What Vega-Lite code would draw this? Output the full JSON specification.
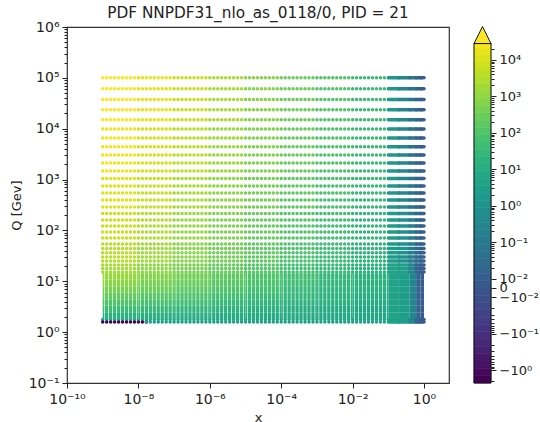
{"$schema":"https://vega.github.io/schema/vega-lite/v6.json","padding":{"left":9,"top":5,"right":0,"bottom":0},"background":"white","config":{"font":"DejaVu Sans","axis":{"grid":false,"labelFont":"DejaVu Sans","titleFont":"DejaVu Sans","labelColor":"#222","titleColor":"#222","tickColor":"#222","labelOverlap":false,"labelBound":false,"labelFlush":false}},"resolve":{"scale":{"color":"independent"}},"spacing":22,"hconcat":[{"width":382,"height":356,"title":{"text":"PDF NNPDF31_nlo_as_0118/0, PID = 21","fontSize":15.3,"fontWeight":"normal","color":"#222","font":"DejaVu Sans","offset":-1},"view":{"stroke":"#333","strokeWidth":1.2},"data":{"values":[
{"x":1e-9,"x2":1e-8,"q":1e5,"f":3e4},{"x":1e-8,"x2":1e-7,"q":1e5,"f":1.2e4},{"x":1e-7,"x2":1e-6,"q":1e5,"f":4600},{"x":1e-6,"x2":1e-5,"q":1e5,"f":1750},{"x":1e-5,"x2":1e-4,"q":1e5,"f":640},{"x":1e-4,"x2":1e-3,"q":1e5,"f":235},{"x":1e-3,"x2":0.01,"q":1e5,"f":88},{"x":0.01,"x2":0.1,"q":1e5,"f":32},{"x":0.1,"x2":0.2,"q":1e5,"f":1.2},{"x":0.2,"x2":0.4,"q":1e5,"f":0.27},{"x":0.4,"x2":0.6,"q":1e5,"f":0.049},{"x":0.6,"x2":0.8,"q":1e5,"f":0.016},{"x":0.8,"x2":1,"q":1e5,"f":0.005},
{"x":1e-9,"x2":1e-8,"q":61200,"f":3e4},{"x":1e-8,"x2":1e-7,"q":61200,"f":1.2e4},{"x":1e-7,"x2":1e-6,"q":61200,"f":4600},{"x":1e-6,"x2":1e-5,"q":61200,"f":1750},{"x":1e-5,"x2":1e-4,"q":61200,"f":640},{"x":1e-4,"x2":1e-3,"q":61200,"f":235},{"x":1e-3,"x2":0.01,"q":61200,"f":88},{"x":0.01,"x2":0.1,"q":61200,"f":32},{"x":0.1,"x2":0.2,"q":61200,"f":1.2},{"x":0.2,"x2":0.4,"q":61200,"f":0.27},{"x":0.4,"x2":0.6,"q":61200,"f":0.049},{"x":0.6,"x2":0.8,"q":61200,"f":0.016},{"x":0.8,"x2":1,"q":61200,"f":0.005},
{"x":1e-9,"x2":1e-8,"q":37700,"f":3e4},{"x":1e-8,"x2":1e-7,"q":37700,"f":1.2e4},{"x":1e-7,"x2":1e-6,"q":37700,"f":4600},{"x":1e-6,"x2":1e-5,"q":37700,"f":1750},{"x":1e-5,"x2":1e-4,"q":37700,"f":640},{"x":1e-4,"x2":1e-3,"q":37700,"f":235},{"x":1e-3,"x2":0.01,"q":37700,"f":88},{"x":0.01,"x2":0.1,"q":37700,"f":32},{"x":0.1,"x2":0.2,"q":37700,"f":1.2},{"x":0.2,"x2":0.4,"q":37700,"f":0.27},{"x":0.4,"x2":0.6,"q":37700,"f":0.049},{"x":0.6,"x2":0.8,"q":37700,"f":0.016},{"x":0.8,"x2":1,"q":37700,"f":0.005},
{"x":1e-9,"x2":1e-8,"q":23600,"f":3e4},{"x":1e-8,"x2":1e-7,"q":23600,"f":1.2e4},{"x":1e-7,"x2":1e-6,"q":23600,"f":4600},{"x":1e-6,"x2":1e-5,"q":23600,"f":1750},{"x":1e-5,"x2":1e-4,"q":23600,"f":640},{"x":1e-4,"x2":1e-3,"q":23600,"f":235},{"x":1e-3,"x2":0.01,"q":23600,"f":88},{"x":0.01,"x2":0.1,"q":23600,"f":32},{"x":0.1,"x2":0.2,"q":23600,"f":1.2},{"x":0.2,"x2":0.4,"q":23600,"f":0.27},{"x":0.4,"x2":0.6,"q":23600,"f":0.049},{"x":0.6,"x2":0.8,"q":23600,"f":0.016},{"x":0.8,"x2":1,"q":23600,"f":0.005},
{"x":1e-9,"x2":1e-8,"q":15000,"f":3e4},{"x":1e-8,"x2":1e-7,"q":15000,"f":1.2e4},{"x":1e-7,"x2":1e-6,"q":15000,"f":4600},{"x":1e-6,"x2":1e-5,"q":15000,"f":1750},{"x":1e-5,"x2":1e-4,"q":15000,"f":640},{"x":1e-4,"x2":1e-3,"q":15000,"f":235},{"x":1e-3,"x2":0.01,"q":15000,"f":88},{"x":0.01,"x2":0.1,"q":15000,"f":32},{"x":0.1,"x2":0.2,"q":15000,"f":1.2},{"x":0.2,"x2":0.4,"q":15000,"f":0.27},{"x":0.4,"x2":0.6,"q":15000,"f":0.049},{"x":0.6,"x2":0.8,"q":15000,"f":0.016},{"x":0.8,"x2":1,"q":15000,"f":0.005},
{"x":1e-9,"x2":1e-8,"q":9900,"f":1.9e4},{"x":1e-8,"x2":1e-7,"q":9900,"f":7400},{"x":1e-7,"x2":1e-6,"q":9900,"f":3000},{"x":1e-6,"x2":1e-5,"q":9900,"f":1200},{"x":1e-5,"x2":1e-4,"q":9900,"f":480},{"x":1e-4,"x2":1e-3,"q":9900,"f":190},{"x":1e-3,"x2":0.01,"q":9900,"f":78},{"x":0.01,"x2":0.1,"q":9900,"f":31},{"x":0.1,"x2":0.2,"q":9900,"f":1.2},{"x":0.2,"x2":0.4,"q":9900,"f":0.27},{"x":0.4,"x2":0.6,"q":9900,"f":0.049},{"x":0.6,"x2":0.8,"q":9900,"f":0.016},{"x":0.8,"x2":1,"q":9900,"f":0.005},
{"x":1e-9,"x2":1e-8,"q":6600,"f":1.9e4},{"x":1e-8,"x2":1e-7,"q":6600,"f":7400},{"x":1e-7,"x2":1e-6,"q":6600,"f":3000},{"x":1e-6,"x2":1e-5,"q":6600,"f":1200},{"x":1e-5,"x2":1e-4,"q":6600,"f":480},{"x":1e-4,"x2":1e-3,"q":6600,"f":190},{"x":1e-3,"x2":0.01,"q":6600,"f":78},{"x":0.01,"x2":0.1,"q":6600,"f":31},{"x":0.1,"x2":0.2,"q":6600,"f":1.2},{"x":0.2,"x2":0.4,"q":6600,"f":0.27},{"x":0.4,"x2":0.6,"q":6600,"f":0.049},{"x":0.6,"x2":0.8,"q":6600,"f":0.016},{"x":0.8,"x2":1,"q":6600,"f":0.005},
{"x":1e-9,"x2":1e-8,"q":4400,"f":1.9e4},{"x":1e-8,"x2":1e-7,"q":4400,"f":7400},{"x":1e-7,"x2":1e-6,"q":4400,"f":3000},{"x":1e-6,"x2":1e-5,"q":4400,"f":1200},{"x":1e-5,"x2":1e-4,"q":4400,"f":480},{"x":1e-4,"x2":1e-3,"q":4400,"f":190},{"x":1e-3,"x2":0.01,"q":4400,"f":78},{"x":0.01,"x2":0.1,"q":4400,"f":31},{"x":0.1,"x2":0.2,"q":4400,"f":1.2},{"x":0.2,"x2":0.4,"q":4400,"f":0.27},{"x":0.4,"x2":0.6,"q":4400,"f":0.049},{"x":0.6,"x2":0.8,"q":4400,"f":0.016},{"x":0.8,"x2":1,"q":4400,"f":0.005},
{"x":1e-9,"x2":1e-8,"q":3040,"f":1.9e4},{"x":1e-8,"x2":1e-7,"q":3040,"f":7400},{"x":1e-7,"x2":1e-6,"q":3040,"f":3000},{"x":1e-6,"x2":1e-5,"q":3040,"f":1200},{"x":1e-5,"x2":1e-4,"q":3040,"f":480},{"x":1e-4,"x2":1e-3,"q":3040,"f":190},{"x":1e-3,"x2":0.01,"q":3040,"f":78},{"x":0.01,"x2":0.1,"q":3040,"f":31},{"x":0.1,"x2":0.2,"q":3040,"f":1.2},{"x":0.2,"x2":0.4,"q":3040,"f":0.27},{"x":0.4,"x2":0.6,"q":3040,"f":0.049},{"x":0.6,"x2":0.8,"q":3040,"f":0.016},{"x":0.8,"x2":1,"q":3040,"f":0.005},
{"x":1e-9,"x2":1e-8,"q":2120,"f":1.9e4},{"x":1e-8,"x2":1e-7,"q":2120,"f":7400},{"x":1e-7,"x2":1e-6,"q":2120,"f":3000},{"x":1e-6,"x2":1e-5,"q":2120,"f":1200},{"x":1e-5,"x2":1e-4,"q":2120,"f":480},{"x":1e-4,"x2":1e-3,"q":2120,"f":190},{"x":1e-3,"x2":0.01,"q":2120,"f":78},{"x":0.01,"x2":0.1,"q":2120,"f":31},{"x":0.1,"x2":0.2,"q":2120,"f":1.2},{"x":0.2,"x2":0.4,"q":2120,"f":0.27},{"x":0.4,"x2":0.6,"q":2120,"f":0.049},{"x":0.6,"x2":0.8,"q":2120,"f":0.016},{"x":0.8,"x2":1,"q":2120,"f":0.005},
{"x":1e-9,"x2":1e-8,"q":1470,"f":1.9e4},{"x":1e-8,"x2":1e-7,"q":1470,"f":7400},{"x":1e-7,"x2":1e-6,"q":1470,"f":3000},{"x":1e-6,"x2":1e-5,"q":1470,"f":1200},{"x":1e-5,"x2":1e-4,"q":1470,"f":480},{"x":1e-4,"x2":1e-3,"q":1470,"f":190},{"x":1e-3,"x2":0.01,"q":1470,"f":78},{"x":0.01,"x2":0.1,"q":1470,"f":31},{"x":0.1,"x2":0.2,"q":1470,"f":1.2},{"x":0.2,"x2":0.4,"q":1470,"f":0.27},{"x":0.4,"x2":0.6,"q":1470,"f":0.049},{"x":0.6,"x2":0.8,"q":1470,"f":0.016},{"x":0.8,"x2":1,"q":1470,"f":0.005},
{"x":1e-9,"x2":1e-8,"q":1050,"f":1e4},{"x":1e-8,"x2":1e-7,"q":1050,"f":4200},{"x":1e-7,"x2":1e-6,"q":1050,"f":1800},{"x":1e-6,"x2":1e-5,"q":1050,"f":750},{"x":1e-5,"x2":1e-4,"q":1050,"f":320},{"x":1e-4,"x2":1e-3,"q":1050,"f":140},{"x":1e-3,"x2":0.01,"q":1050,"f":58},{"x":0.01,"x2":0.1,"q":1050,"f":24},{"x":0.1,"x2":0.2,"q":1050,"f":1.2},{"x":0.2,"x2":0.4,"q":1050,"f":0.27},{"x":0.4,"x2":0.6,"q":1050,"f":0.049},{"x":0.6,"x2":0.8,"q":1050,"f":0.016},{"x":0.8,"x2":1,"q":1050,"f":0.005},
{"x":1e-9,"x2":1e-8,"q":747,"f":1e4},{"x":1e-8,"x2":1e-7,"q":747,"f":4200},{"x":1e-7,"x2":1e-6,"q":747,"f":1800},{"x":1e-6,"x2":1e-5,"q":747,"f":750},{"x":1e-5,"x2":1e-4,"q":747,"f":320},{"x":1e-4,"x2":1e-3,"q":747,"f":140},{"x":1e-3,"x2":0.01,"q":747,"f":58},{"x":0.01,"x2":0.1,"q":747,"f":24},{"x":0.1,"x2":0.2,"q":747,"f":1.2},{"x":0.2,"x2":0.4,"q":747,"f":0.27},{"x":0.4,"x2":0.6,"q":747,"f":0.049},{"x":0.6,"x2":0.8,"q":747,"f":0.016},{"x":0.8,"x2":1,"q":747,"f":0.005},
{"x":1e-9,"x2":1e-8,"q":544,"f":1e4},{"x":1e-8,"x2":1e-7,"q":544,"f":4200},{"x":1e-7,"x2":1e-6,"q":544,"f":1800},{"x":1e-6,"x2":1e-5,"q":544,"f":750},{"x":1e-5,"x2":1e-4,"q":544,"f":320},{"x":1e-4,"x2":1e-3,"q":544,"f":140},{"x":1e-3,"x2":0.01,"q":544,"f":58},{"x":0.01,"x2":0.1,"q":544,"f":24},{"x":0.1,"x2":0.2,"q":544,"f":1.2},{"x":0.2,"x2":0.4,"q":544,"f":0.27},{"x":0.4,"x2":0.6,"q":544,"f":0.049},{"x":0.6,"x2":0.8,"q":544,"f":0.016},{"x":0.8,"x2":1,"q":544,"f":0.005},
{"x":1e-9,"x2":1e-8,"q":396,"f":1e4},{"x":1e-8,"x2":1e-7,"q":396,"f":4200},{"x":1e-7,"x2":1e-6,"q":396,"f":1800},{"x":1e-6,"x2":1e-5,"q":396,"f":750},{"x":1e-5,"x2":1e-4,"q":396,"f":320},{"x":1e-4,"x2":1e-3,"q":396,"f":140},{"x":1e-3,"x2":0.01,"q":396,"f":58},{"x":0.01,"x2":0.1,"q":396,"f":24},{"x":0.1,"x2":0.2,"q":396,"f":1.2},{"x":0.2,"x2":0.4,"q":396,"f":0.27},{"x":0.4,"x2":0.6,"q":396,"f":0.049},{"x":0.6,"x2":0.8,"q":396,"f":0.016},{"x":0.8,"x2":1,"q":396,"f":0.005},
{"x":1e-9,"x2":1e-8,"q":289,"f":1e4},{"x":1e-8,"x2":1e-7,"q":289,"f":4200},{"x":1e-7,"x2":1e-6,"q":289,"f":1800},{"x":1e-6,"x2":1e-5,"q":289,"f":750},{"x":1e-5,"x2":1e-4,"q":289,"f":320},{"x":1e-4,"x2":1e-3,"q":289,"f":140},{"x":1e-3,"x2":0.01,"q":289,"f":58},{"x":0.01,"x2":0.1,"q":289,"f":24},{"x":0.1,"x2":0.2,"q":289,"f":1.2},{"x":0.2,"x2":0.4,"q":289,"f":0.27},{"x":0.4,"x2":0.6,"q":289,"f":0.049},{"x":0.6,"x2":0.8,"q":289,"f":0.016},{"x":0.8,"x2":1,"q":289,"f":0.005},
{"x":1e-9,"x2":1e-8,"q":215,"f":5300},{"x":1e-8,"x2":1e-7,"q":215,"f":2400},{"x":1e-7,"x2":1e-6,"q":215,"f":1050},{"x":1e-6,"x2":1e-5,"q":215,"f":480},{"x":1e-5,"x2":1e-4,"q":215,"f":210},{"x":1e-4,"x2":1e-3,"q":215,"f":96},{"x":1e-3,"x2":0.01,"q":215,"f":43},{"x":0.01,"x2":0.1,"q":215,"f":20},{"x":0.1,"x2":0.2,"q":215,"f":1.9},{"x":0.2,"x2":0.4,"q":215,"f":0.64},{"x":0.4,"x2":0.6,"q":215,"f":0.11},{"x":0.6,"x2":0.8,"q":215,"f":0.021},{"x":0.8,"x2":1,"q":215,"f":0.008},
{"x":1e-9,"x2":1e-8,"q":160,"f":5300},{"x":1e-8,"x2":1e-7,"q":160,"f":2400},{"x":1e-7,"x2":1e-6,"q":160,"f":1050},{"x":1e-6,"x2":1e-5,"q":160,"f":480},{"x":1e-5,"x2":1e-4,"q":160,"f":210},{"x":1e-4,"x2":1e-3,"q":160,"f":96},{"x":1e-3,"x2":0.01,"q":160,"f":43},{"x":0.01,"x2":0.1,"q":160,"f":20},{"x":0.1,"x2":0.2,"q":160,"f":1.9},{"x":0.2,"x2":0.4,"q":160,"f":0.64},{"x":0.4,"x2":0.6,"q":160,"f":0.11},{"x":0.6,"x2":0.8,"q":160,"f":0.021},{"x":0.8,"x2":1,"q":160,"f":0.008},
{"x":1e-9,"x2":1e-8,"q":122,"f":5300},{"x":1e-8,"x2":1e-7,"q":122,"f":2400},{"x":1e-7,"x2":1e-6,"q":122,"f":1050},{"x":1e-6,"x2":1e-5,"q":122,"f":480},{"x":1e-5,"x2":1e-4,"q":122,"f":210},{"x":1e-4,"x2":1e-3,"q":122,"f":96},{"x":1e-3,"x2":0.01,"q":122,"f":43},{"x":0.01,"x2":0.1,"q":122,"f":20},{"x":0.1,"x2":0.2,"q":122,"f":1.9},{"x":0.2,"x2":0.4,"q":122,"f":0.64},{"x":0.4,"x2":0.6,"q":122,"f":0.11},{"x":0.6,"x2":0.8,"q":122,"f":0.021},{"x":0.8,"x2":1,"q":122,"f":0.008},
{"x":1e-9,"x2":1e-8,"q":93,"f":5300},{"x":1e-8,"x2":1e-7,"q":93,"f":2400},{"x":1e-7,"x2":1e-6,"q":93,"f":1050},{"x":1e-6,"x2":1e-5,"q":93,"f":480},{"x":1e-5,"x2":1e-4,"q":93,"f":210},{"x":1e-4,"x2":1e-3,"q":93,"f":96},{"x":1e-3,"x2":0.01,"q":93,"f":43},{"x":0.01,"x2":0.1,"q":93,"f":20},{"x":0.1,"x2":0.2,"q":93,"f":1.9},{"x":0.2,"x2":0.4,"q":93,"f":0.64},{"x":0.4,"x2":0.6,"q":93,"f":0.11},{"x":0.6,"x2":0.8,"q":93,"f":0.021},{"x":0.8,"x2":1,"q":93,"f":0.008},
{"x":1e-9,"x2":1e-8,"q":71,"f":5300},{"x":1e-8,"x2":1e-7,"q":71,"f":2400},{"x":1e-7,"x2":1e-6,"q":71,"f":1050},{"x":1e-6,"x2":1e-5,"q":71,"f":480},{"x":1e-5,"x2":1e-4,"q":71,"f":210},{"x":1e-4,"x2":1e-3,"q":71,"f":96},{"x":1e-3,"x2":0.01,"q":71,"f":43},{"x":0.01,"x2":0.1,"q":71,"f":20},{"x":0.1,"x2":0.2,"q":71,"f":1.9},{"x":0.2,"x2":0.4,"q":71,"f":0.64},{"x":0.4,"x2":0.6,"q":71,"f":0.11},{"x":0.6,"x2":0.8,"q":71,"f":0.021},{"x":0.8,"x2":1,"q":71,"f":0.008},
{"x":1e-9,"x2":1e-8,"q":54,"f":2900},{"x":1e-8,"x2":1e-7,"q":54,"f":1350},{"x":1e-7,"x2":1e-6,"q":54,"f":640},{"x":1e-6,"x2":1e-5,"q":54,"f":300},{"x":1e-5,"x2":1e-4,"q":54,"f":145},{"x":1e-4,"x2":1e-3,"q":54,"f":68},{"x":1e-3,"x2":0.01,"q":54,"f":32},{"x":0.01,"x2":0.1,"q":54,"f":15},{"x":0.1,"x2":0.2,"q":54,"f":1.9},{"x":0.2,"x2":0.4,"q":54,"f":0.64},{"x":0.4,"x2":0.6,"q":54,"f":0.11},{"x":0.6,"x2":0.8,"q":54,"f":0.021},{"x":0.8,"x2":1,"q":54,"f":0.008},
{"x":1e-9,"x2":1e-8,"q":44,"f":2900},{"x":1e-8,"x2":1e-7,"q":44,"f":1350},{"x":1e-7,"x2":1e-6,"q":44,"f":640},{"x":1e-6,"x2":1e-5,"q":44,"f":300},{"x":1e-5,"x2":1e-4,"q":44,"f":145},{"x":1e-4,"x2":1e-3,"q":44,"f":68},{"x":1e-3,"x2":0.01,"q":44,"f":32},{"x":0.01,"x2":0.1,"q":44,"f":15},{"x":0.1,"x2":0.2,"q":44,"f":1.9},{"x":0.2,"x2":0.4,"q":44,"f":0.64},{"x":0.4,"x2":0.6,"q":44,"f":0.11},{"x":0.6,"x2":0.8,"q":44,"f":0.021},{"x":0.8,"x2":1,"q":44,"f":0.008},
{"x":1e-9,"x2":1e-8,"q":36.5,"f":2900},{"x":1e-8,"x2":1e-7,"q":36.5,"f":1350},{"x":1e-7,"x2":1e-6,"q":36.5,"f":640},{"x":1e-6,"x2":1e-5,"q":36.5,"f":300},{"x":1e-5,"x2":1e-4,"q":36.5,"f":145},{"x":1e-4,"x2":1e-3,"q":36.5,"f":68},{"x":1e-3,"x2":0.01,"q":36.5,"f":32},{"x":0.01,"x2":0.1,"q":36.5,"f":15},{"x":0.1,"x2":0.2,"q":36.5,"f":1.9},{"x":0.2,"x2":0.4,"q":36.5,"f":0.64},{"x":0.4,"x2":0.6,"q":36.5,"f":0.11},{"x":0.6,"x2":0.8,"q":36.5,"f":0.021},{"x":0.8,"x2":1,"q":36.5,"f":0.008},
{"x":1e-9,"x2":1e-8,"q":30,"f":2900},{"x":1e-8,"x2":1e-7,"q":30,"f":1350},{"x":1e-7,"x2":1e-6,"q":30,"f":640},{"x":1e-6,"x2":1e-5,"q":30,"f":300},{"x":1e-5,"x2":1e-4,"q":30,"f":145},{"x":1e-4,"x2":1e-3,"q":30,"f":68},{"x":1e-3,"x2":0.01,"q":30,"f":32},{"x":0.01,"x2":0.1,"q":30,"f":15},{"x":0.1,"x2":0.2,"q":30,"f":1.9},{"x":0.2,"x2":0.4,"q":30,"f":0.64},{"x":0.4,"x2":0.6,"q":30,"f":0.11},{"x":0.6,"x2":0.8,"q":30,"f":0.021},{"x":0.8,"x2":1,"q":30,"f":0.008},
{"x":1e-9,"x2":1e-8,"q":25,"f":2900},{"x":1e-8,"x2":1e-7,"q":25,"f":1350},{"x":1e-7,"x2":1e-6,"q":25,"f":640},{"x":1e-6,"x2":1e-5,"q":25,"f":300},{"x":1e-5,"x2":1e-4,"q":25,"f":145},{"x":1e-4,"x2":1e-3,"q":25,"f":68},{"x":1e-3,"x2":0.01,"q":25,"f":32},{"x":0.01,"x2":0.1,"q":25,"f":15},{"x":0.1,"x2":0.2,"q":25,"f":1.9},{"x":0.2,"x2":0.4,"q":25,"f":0.64},{"x":0.4,"x2":0.6,"q":25,"f":0.11},{"x":0.6,"x2":0.8,"q":25,"f":0.021},{"x":0.8,"x2":1,"q":25,"f":0.008},
{"x":1e-9,"x2":1e-8,"q":21,"f":1550},{"x":1e-8,"x2":1e-7,"q":21,"f":770},{"x":1e-7,"x2":1e-6,"q":21,"f":390},{"x":1e-6,"x2":1e-5,"q":21,"f":190},{"x":1e-5,"x2":1e-4,"q":21,"f":96},{"x":1e-4,"x2":1e-3,"q":21,"f":47},{"x":1e-3,"x2":0.01,"q":21,"f":25},{"x":0.01,"x2":0.1,"q":21,"f":12},{"x":0.1,"x2":0.2,"q":21,"f":3.5},{"x":0.2,"x2":0.4,"q":21,"f":2.3},{"x":0.4,"x2":0.6,"q":21,"f":0.2},{"x":0.6,"x2":0.8,"q":21,"f":0.012},{"x":0.8,"x2":1,"q":21,"f":0.002},
{"x":1e-9,"x2":1e-8,"q":17.8,"f":1550},{"x":1e-8,"x2":1e-7,"q":17.8,"f":770},{"x":1e-7,"x2":1e-6,"q":17.8,"f":390},{"x":1e-6,"x2":1e-5,"q":17.8,"f":190},{"x":1e-5,"x2":1e-4,"q":17.8,"f":96},{"x":1e-4,"x2":1e-3,"q":17.8,"f":47},{"x":1e-3,"x2":0.01,"q":17.8,"f":25},{"x":0.01,"x2":0.1,"q":17.8,"f":12},{"x":0.1,"x2":0.2,"q":17.8,"f":3.5},{"x":0.2,"x2":0.4,"q":17.8,"f":2.3},{"x":0.4,"x2":0.6,"q":17.8,"f":0.2},{"x":0.6,"x2":0.8,"q":17.8,"f":0.012},{"x":0.8,"x2":1,"q":17.8,"f":0.002},
{"x":1e-9,"x2":1e-8,"q":15.2,"f":1550},{"x":1e-8,"x2":1e-7,"q":15.2,"f":770},{"x":1e-7,"x2":1e-6,"q":15.2,"f":390},{"x":1e-6,"x2":1e-5,"q":15.2,"f":190},{"x":1e-5,"x2":1e-4,"q":15.2,"f":96},{"x":1e-4,"x2":1e-3,"q":15.2,"f":47},{"x":1e-3,"x2":0.01,"q":15.2,"f":25},{"x":0.01,"x2":0.1,"q":15.2,"f":12},{"x":0.1,"x2":0.2,"q":15.2,"f":3.5},{"x":0.2,"x2":0.4,"q":15.2,"f":2.3},{"x":0.4,"x2":0.6,"q":15.2,"f":0.2},{"x":0.6,"x2":0.8,"q":15.2,"f":0.012},{"x":0.8,"x2":1,"q":15.2,"f":0.002},
{"x":1e-9,"x2":1e-8,"q":12.4,"f":1050},{"x":1e-8,"x2":1e-7,"q":12.4,"f":560},{"x":1e-7,"x2":1e-6,"q":12.4,"f":290},{"x":1e-6,"x2":1e-5,"q":12.4,"f":150},{"x":1e-5,"x2":1e-4,"q":12.4,"f":80},{"x":1e-4,"x2":1e-3,"q":12.4,"f":42},{"x":1e-3,"x2":0.01,"q":12.4,"f":22},{"x":0.01,"x2":0.1,"q":12.4,"f":12},{"x":0.1,"x2":0.2,"q":12.4,"f":3.5},{"x":0.2,"x2":0.4,"q":12.4,"f":2.3},{"x":0.4,"x2":0.6,"q":12.4,"f":0.2},{"x":0.6,"x2":0.8,"q":12.4,"f":0.012},{"x":0.8,"x2":1,"q":12.4,"f":0.002},
{"x":1e-9,"x2":1e-8,"q":9.25,"f":700},{"x":1e-8,"x2":1e-7,"q":9.25,"f":390},{"x":1e-7,"x2":1e-6,"q":9.25,"f":210},{"x":1e-6,"x2":1e-5,"q":9.25,"f":120},{"x":1e-5,"x2":1e-4,"q":9.25,"f":65},{"x":1e-4,"x2":1e-3,"q":9.25,"f":36},{"x":1e-3,"x2":0.01,"q":9.25,"f":20},{"x":0.01,"x2":0.1,"q":9.25,"f":12},{"x":0.1,"x2":0.2,"q":9.25,"f":3.5},{"x":0.2,"x2":0.4,"q":9.25,"f":2.3},{"x":0.4,"x2":0.6,"q":9.25,"f":0.2},{"x":0.6,"x2":0.8,"q":9.25,"f":0.012},{"x":0.8,"x2":1,"q":9.25,"f":0.002},
{"x":1e-9,"x2":1e-8,"q":6.89,"f":380},{"x":1e-8,"x2":1e-7,"q":6.89,"f":230},{"x":1e-7,"x2":1e-6,"q":6.89,"f":140},{"x":1e-6,"x2":1e-5,"q":6.89,"f":80},{"x":1e-5,"x2":1e-4,"q":6.89,"f":47},{"x":1e-4,"x2":1e-3,"q":6.89,"f":27},{"x":1e-3,"x2":0.01,"q":6.89,"f":16},{"x":0.01,"x2":0.1,"q":6.89,"f":10},{"x":0.1,"x2":0.2,"q":6.89,"f":3.5},{"x":0.2,"x2":0.4,"q":6.89,"f":2.3},{"x":0.4,"x2":0.6,"q":6.89,"f":0.2},{"x":0.6,"x2":0.8,"q":6.89,"f":0.012},{"x":0.8,"x2":1,"q":6.89,"f":0.002},
{"x":1e-9,"x2":1e-8,"q":5.14,"f":170},{"x":1e-8,"x2":1e-7,"q":5.14,"f":110},{"x":1e-7,"x2":1e-6,"q":5.14,"f":71},{"x":1e-6,"x2":1e-5,"q":5.14,"f":46},{"x":1e-5,"x2":1e-4,"q":5.14,"f":30},{"x":1e-4,"x2":1e-3,"q":5.14,"f":20},{"x":1e-3,"x2":0.01,"q":5.14,"f":13},{"x":0.01,"x2":0.1,"q":5.14,"f":8.4},{"x":0.1,"x2":0.2,"q":5.14,"f":3.5},{"x":0.2,"x2":0.4,"q":5.14,"f":2.3},{"x":0.4,"x2":0.6,"q":5.14,"f":0.2},{"x":0.6,"x2":0.8,"q":5.14,"f":0.012},{"x":0.8,"x2":1,"q":5.14,"f":0.002},
{"x":1e-9,"x2":1e-8,"q":3.83,"f":78},{"x":1e-8,"x2":1e-7,"q":3.83,"f":55},{"x":1e-7,"x2":1e-6,"q":3.83,"f":38},{"x":1e-6,"x2":1e-5,"q":3.83,"f":27},{"x":1e-5,"x2":1e-4,"q":3.83,"f":19},{"x":1e-4,"x2":1e-3,"q":3.83,"f":14},{"x":1e-3,"x2":0.01,"q":3.83,"f":10},{"x":0.01,"x2":0.1,"q":3.83,"f":7},{"x":0.1,"x2":0.2,"q":3.83,"f":3.5},{"x":0.2,"x2":0.4,"q":3.83,"f":2.3},{"x":0.4,"x2":0.6,"q":3.83,"f":0.2},{"x":0.6,"x2":0.8,"q":3.83,"f":0.012},{"x":0.8,"x2":1,"q":3.83,"f":0.002},
{"x":1e-9,"x2":1e-8,"q":2.85,"f":34},{"x":1e-8,"x2":1e-7,"q":2.85,"f":25},{"x":1e-7,"x2":1e-6,"q":2.85,"f":19},{"x":1e-6,"x2":1e-5,"q":2.85,"f":14},{"x":1e-5,"x2":1e-4,"q":2.85,"f":11},{"x":1e-4,"x2":1e-3,"q":2.85,"f":8},{"x":1e-3,"x2":0.01,"q":2.85,"f":6},{"x":0.01,"x2":0.1,"q":2.85,"f":4.5},{"x":0.1,"x2":0.2,"q":2.85,"f":3.5},{"x":0.2,"x2":0.4,"q":2.85,"f":2.3},{"x":0.4,"x2":0.6,"q":2.85,"f":0.2},{"x":0.6,"x2":0.8,"q":2.85,"f":0.012},{"x":0.8,"x2":1,"q":2.85,"f":0.002},
{"x":1e-9,"x2":1e-8,"q":2.12,"f":10},{"x":1e-8,"x2":1e-7,"q":2.12,"f":9.5},{"x":1e-7,"x2":1e-6,"q":2.12,"f":8.5},{"x":1e-6,"x2":1e-5,"q":2.12,"f":7.7},{"x":1e-5,"x2":1e-4,"q":2.12,"f":7},{"x":1e-4,"x2":1e-3,"q":2.12,"f":6.3},{"x":1e-3,"x2":0.01,"q":2.12,"f":5.6},{"x":0.01,"x2":0.1,"q":2.12,"f":5},{"x":0.1,"x2":0.2,"q":2.12,"f":3.5},{"x":0.2,"x2":0.4,"q":2.12,"f":2.3},{"x":0.4,"x2":0.6,"q":2.12,"f":0.2},{"x":0.6,"x2":0.8,"q":2.12,"f":0.012},{"x":0.8,"x2":1,"q":2.12,"f":0.002},
{"x":1e-9,"x2":1e-8,"q":1.77,"f":5.4},{"x":1e-8,"x2":1e-7,"q":1.77,"f":5.4},{"x":1e-7,"x2":1e-6,"q":1.77,"f":5.4},{"x":1e-6,"x2":1e-5,"q":1.77,"f":5},{"x":1e-5,"x2":1e-4,"q":1.77,"f":4.5},{"x":1e-4,"x2":1e-3,"q":1.77,"f":4.5},{"x":1e-3,"x2":0.01,"q":1.77,"f":4},{"x":0.01,"x2":0.1,"q":1.77,"f":3.5},{"x":0.1,"x2":0.2,"q":1.77,"f":3.5},{"x":0.2,"x2":0.4,"q":1.77,"f":2.3},{"x":0.4,"x2":0.6,"q":1.77,"f":0.2},{"x":0.6,"x2":0.8,"q":1.77,"f":0.012},{"x":0.8,"x2":1,"q":1.77,"f":0.002},
{"x":1e-9,"x2":1e-8,"q":1.58,"f":-2},{"x":1e-8,"x2":1.67e-8,"q":1.58,"f":-2},{"x":1.67e-8,"x2":1e-7,"q":1.58,"f":3},{"x":1e-7,"x2":1e-6,"q":1.58,"f":3.5},{"x":1e-6,"x2":1e-5,"q":1.58,"f":3.5},{"x":1e-5,"x2":1e-4,"q":1.58,"f":3.5},{"x":1e-4,"x2":1e-3,"q":1.58,"f":3.5},{"x":1e-3,"x2":0.01,"q":1.58,"f":3.5},{"x":0.01,"x2":0.1,"q":1.58,"f":3.5},{"x":0.1,"x2":0.2,"q":1.58,"f":3.5},{"x":0.2,"x2":0.4,"q":1.58,"f":2.3},{"x":0.4,"x2":0.6,"q":1.58,"f":0.2},{"x":0.6,"x2":0.8,"q":1.58,"f":0.012},{"x":0.8,"x2":1,"q":1.58,"f":0.002}
]},"transform":[{"calculate":"datum.f==0?0:abs(datum.f)<0.01?25*datum.f:(datum.f>0?1:-1)*(log(abs(datum.f))/LN10+2.25)","as":"s"}],"encoding":{"x":{"field":"x","type":"quantitative","title":"x","scale":{"type":"log","domain":[1e-10,5.01],"nice":false},"axis":{"values":[1e-10,1e-8,1e-6,1e-4,0.01,1],"labelExpr":"{'-10':'10⁻¹⁰','-8':'10⁻⁸','-6':'10⁻⁶','-4':'10⁻⁴','-2':'10⁻²','0':'10⁰'}[''+round(log(datum.value)/LN10)]","labelFontSize":14,"titleFontSize":13,"titleFontWeight":"normal","tickSize":5,"domain":false,"labelPadding":4,"titlePadding":5}},"x2":{"field":"x2"},"y":{"field":"q","type":"quantitative","title":"Q [Gev]","scale":{"type":"log","domain":[0.1,1e6],"nice":false},"axis":{"values":[0.1,0.2,0.3,0.4,0.5,0.6,0.7,0.8,0.9,1,2,3,4,5,6,7,8,9,10,20,30,40,50,60,70,80,90,100,200,300,400,500,600,700,800,900,1000,2000,3000,4000,5000,6000,7000,8000,9000,10000,20000,30000,40000,50000,60000,70000,80000,90000,100000,200000,300000,400000,500000,600000,700000,800000,900000,1000000],"labelExpr":"abs(log(datum.value)/LN10-round(log(datum.value)/LN10))<1e-6?{'-1':'10⁻¹','0':'10⁰','1':'10¹','2':'10²','3':'10³','4':'10⁴','5':'10⁵','6':'10⁶'}[''+round(log(datum.value)/LN10)]:''","labelFontSize":14,"titleFontSize":13,"titleFontWeight":"normal","tickSize":{"condition":{"test":"abs(log(datum.value)/LN10-round(log(datum.value)/LN10))<1e-6","value":5},"value":3},"domain":false,"labelPadding":3,"titlePadding":5}},"color":{"field":"s","type":"quantitative","legend":null,"scale":{"scheme":"viridis","domain":[-2.603,6.712],"clamp":true}}},"layer":[{"transform":[{"filter":"datum.x<0.1 && (datum.q>15 || datum.q<2)"}],"mark":{"type":"rule","strokeWidth":3.5,"strokeCap":"round","strokeDash":[0.01,3.957]}},{"transform":[{"filter":"datum.x>=0.1 && (datum.q>15 || datum.q<2)"}],"mark":{"type":"rule","strokeWidth":3.5,"strokeCap":"round"}},{"transform":[{"filter":"datum.x<0.1 && datum.q<15 && datum.q>2"}],"mark":{"type":"rule","strokeWidth":6.6,"strokeCap":"butt","strokeDash":[3.3,0.667],"strokeDashOffset":1.65}},{"transform":[{"filter":"datum.x>=0.1 && datum.q<15 && datum.q>2"}],"mark":{"type":"rule","strokeWidth":6.6,"strokeCap":"butt"}}]},
{"width":17,"height":356,"view":{"stroke":null},"data":{"values":[{"s":-2.603,"s2":-2.4},{"s":-2.4,"s2":-2.2},{"s":-2.2,"s2":-2},{"s":-2,"s2":-1.8},{"s":-1.8,"s2":-1.6},{"s":-1.6,"s2":-1.4},{"s":-1.4,"s2":-1.2},{"s":-1.2,"s2":-1},{"s":-1,"s2":-0.8},{"s":-0.8,"s2":-0.6},{"s":-0.6,"s2":-0.4},{"s":-0.4,"s2":-0.2},{"s":-0.2,"s2":0},{"s":0,"s2":0.2},{"s":0.2,"s2":0.4},{"s":0.4,"s2":0.6},{"s":0.6,"s2":0.8},{"s":0.8,"s2":1},{"s":1,"s2":1.2},{"s":1.2,"s2":1.4},{"s":1.4,"s2":1.6},{"s":1.6,"s2":1.8},{"s":1.8,"s2":2},{"s":2,"s2":2.2},{"s":2.2,"s2":2.4},{"s":2.4,"s2":2.6},{"s":2.6,"s2":2.8},{"s":2.8,"s2":3},{"s":3,"s2":3.2},{"s":3.2,"s2":3.4},{"s":3.4,"s2":3.6},{"s":3.6,"s2":3.8},{"s":3.8,"s2":4},{"s":4,"s2":4.2},{"s":4.2,"s2":4.4},{"s":4.4,"s2":4.6},{"s":4.6,"s2":4.8},{"s":4.8,"s2":5},{"s":5,"s2":5.2},{"s":5.2,"s2":5.4},{"s":5.4,"s2":5.6},{"s":5.6,"s2":5.8},{"s":5.8,"s2":6},{"s":6,"s2":6.2},{"s":6.2,"s2":6.4},{"s":6.4,"s2":6.6},{"s":6.6,"s2":6.712}]},"encoding":{"y":{"field":"s","type":"quantitative","title":null,"scale":{"domain":[-2.603,7.151],"nice":false,"zero":false},"axis":{"orient":"right","domain":false,"values":[-2.551,-2.25,-2.204,-2.153,-2.095,-2.028,-1.949,-1.852,-1.727,-1.551,-1.25,-1.204,-1.153,-1.095,-1.028,-0.949,-0.852,-0.727,-0.551,-0.25,0,0.25,0.551,0.727,0.852,0.949,1.028,1.095,1.153,1.204,1.25,1.551,1.727,1.852,1.949,2.028,2.095,2.153,2.204,2.25,2.551,2.727,2.852,2.949,3.028,3.095,3.153,3.204,3.25,3.551,3.727,3.852,3.949,4.028,4.095,4.153,4.204,4.25,4.551,4.727,4.852,4.949,5.028,5.095,5.153,5.204,5.25,5.551,5.727,5.852,5.949,6.028,6.095,6.153,6.204,6.25,6.551],"labelExpr":"{'6.25':'10⁴','5.25':'10³','4.25':'10²','3.25':'10¹','2.25':'10⁰','1.25':'10⁻¹','0.25':'10⁻²','0':'0','-0.25':'−10⁻²','-1.25':'−10⁻¹','-2.25':'−10⁰'}[''+datum.value]||''","labelFontSize":13,"labelPadding":3,"tickSize":{"condition":{"test":"datum.value*4==round(datum.value*4)","value":5},"value":3}}}},"layer":[{"mark":{"type":"rect","strokeWidth":0.6},"encoding":{"y2":{"field":"s2"},"color":{"field":"s","type":"quantitative","legend":null,"scale":{"scheme":"viridis","domain":[-2.603,6.712],"clamp":true}},"stroke":{"field":"s","type":"quantitative","legend":null,"scale":{"scheme":"viridis","domain":[-2.603,6.712],"clamp":true}}}},{"transform":[{"filter":"datum.s==-2.603"}],"mark":{"type":"rect","fill":null,"stroke":"#111","strokeWidth":1},"encoding":{"y2":{"datum":6.712}}},{"transform":[{"filter":"datum.s==6.6"}],"mark":{"type":"point","shape":"M-1,1L0,-1L1,1Z","size":289,"filled":true,"fill":"#fde725","stroke":"#111","strokeWidth":1,"opacity":1},"encoding":{"y":{"datum":6.93,"type":"quantitative"}}}]}]}
